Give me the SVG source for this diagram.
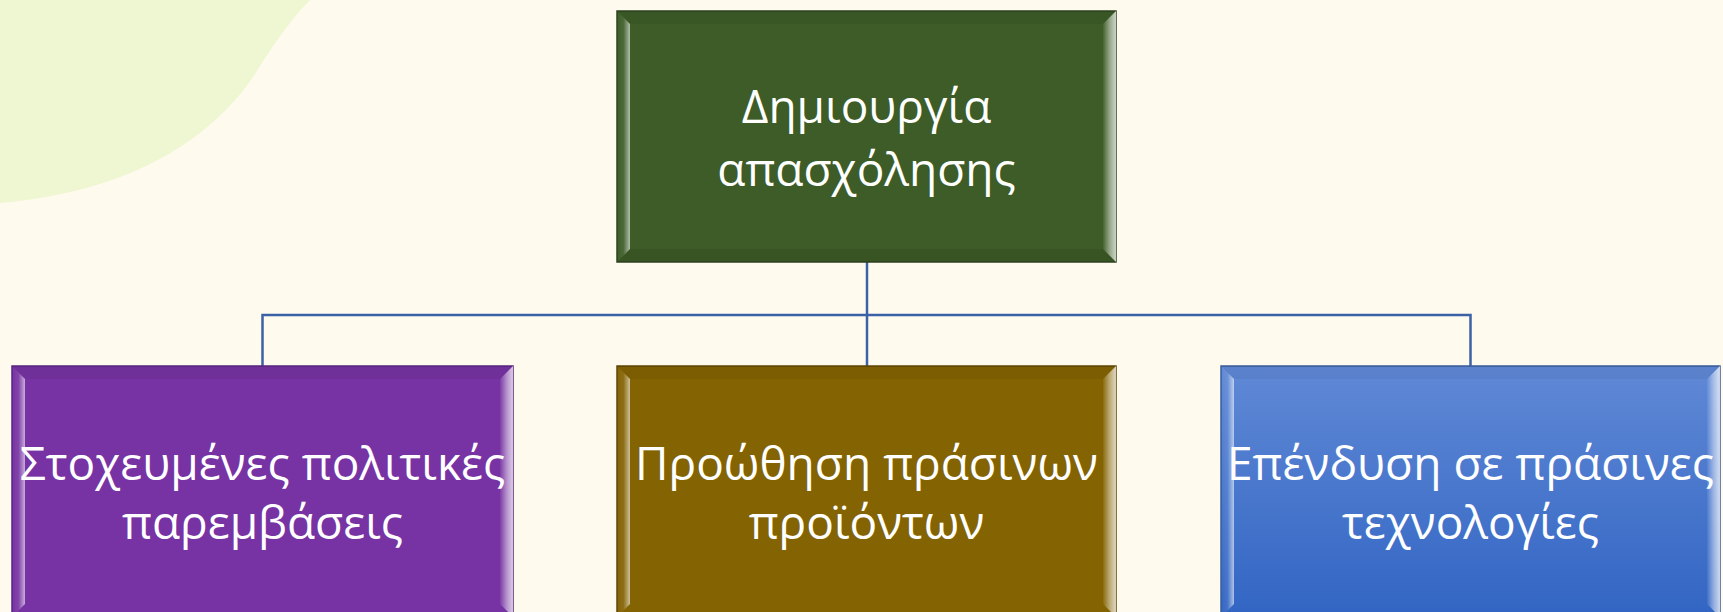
<svg xmlns="http://www.w3.org/2000/svg" width="1723" height="612" viewBox="0 0 1723 612">
<defs>
<style>
.lbl{font-family:"Open Sans","Noto Sans","Liberation Sans",sans-serif;font-size:46px;fill:#ffffff;text-anchor:middle}
.conn{fill:none;stroke:#3B62A6;stroke-width:2.5}
.topf{fill:#000;fill-opacity:0.05}
.botf{fill:#000;fill-opacity:0.08}
</style>
<linearGradient id="blueFill" x1="0" y1="0" x2="0" y2="1">
<stop offset="0" stop-color="#6089D6"/>
<stop offset="1" stop-color="#3265C3"/>
</linearGradient>
<linearGradient id="lf" x1="0" y1="0" x2="1" y2="0">
<stop offset="0" stop-color="#fff" stop-opacity="0"/>
<stop offset="0.5" stop-color="#fff" stop-opacity="0.08"/>
<stop offset="1" stop-color="#fff" stop-opacity="0.6"/>
</linearGradient>
<linearGradient id="rf" x1="0" y1="0" x2="1" y2="0">
<stop offset="0" stop-color="#fff" stop-opacity="0.05"/>
<stop offset="0.5" stop-color="#fff" stop-opacity="0.45"/>
<stop offset="1" stop-color="#fff" stop-opacity="0.75"/>
</linearGradient>
</defs>
<rect width="1723" height="612" fill="#FFFAEE"/>
<path d="M0,0 L310,0 C290,20 270,50 253,77 C220,125 150,190 0,203 Z" fill="#EFF7D2"/>
<g id="connectors">
<line class="conn" x1="867" y1="262" x2="867" y2="315" stroke-width="3.5"/>
<polyline class="conn" points="262.5,366 262.5,315 1470.5,315 1470.5,366"/>
<line class="conn" x1="867" y1="315" x2="867" y2="366"/>
</g>
<g id="node-top">
<rect x="617" y="11" width="499" height="251" fill="#3D5C27" stroke="#2E4220" stroke-width="1.5"/>
<polygon class="topf" points="617,11 1116,11 1103,24 630,24"/>
<polygon class="botf" points="617,262 1116,262 1103,249 630,249"/>
<polygon fill="url(#lf)" points="617,11 630,24 630,249 617,262"/>
<polygon fill="url(#rf)" points="1116,11 1103,24 1103,249 1116,262"/>
<text class="lbl" x="866.5" y="123">Δημιουργία</text>
<text class="lbl" x="866.5" y="186">απασχόλησης</text>
</g>
<g id="node-left">
<rect x="12" y="366" width="501" height="251" fill="#7733A3" stroke="#5A2580" stroke-width="1.5"/>
<polygon class="topf" points="12,366 513,366 500,379 25,379"/>
<polygon fill="url(#lf)" points="12,366 25,379 25,604 12,617"/>
<polygon fill="url(#rf)" points="513,366 500,379 500,604 513,617"/>
<text class="lbl" x="262.5" y="480">Στοχευμένες πολιτικές</text>
<text class="lbl" x="262.5" y="539">παρεμβάσεις</text>
</g>
<g id="node-middle">
<rect x="617" y="366" width="499" height="251" fill="#846302" stroke="#5E4602" stroke-width="1.5"/>
<polygon class="topf" points="617,366 1116,366 1103,379 630,379"/>
<polygon fill="url(#lf)" points="617,366 630,379 630,604 617,617"/>
<polygon fill="url(#rf)" points="1116,366 1103,379 1103,604 1116,617"/>
<text class="lbl" x="866.5" y="480">Προώθηση πράσινων</text>
<text class="lbl" x="866.5" y="539">προϊόντων</text>
</g>
<g id="node-right">
<rect x="1221" y="366" width="499" height="251" fill="url(#blueFill)" stroke="#3A5C9A" stroke-width="1.5"/>
<polygon class="topf" points="1221,366 1720,366 1707,379 1234,379"/>
<polygon fill="url(#lf)" points="1221,366 1234,379 1234,604 1221,617"/>
<polygon fill="url(#rf)" points="1720,366 1707,379 1707,604 1720,617"/>
<text class="lbl" x="1470.5" y="480">Επένδυση σε πράσινες</text>
<text class="lbl" x="1470.5" y="539">τεχνολογίες</text>
</g>
</svg>
